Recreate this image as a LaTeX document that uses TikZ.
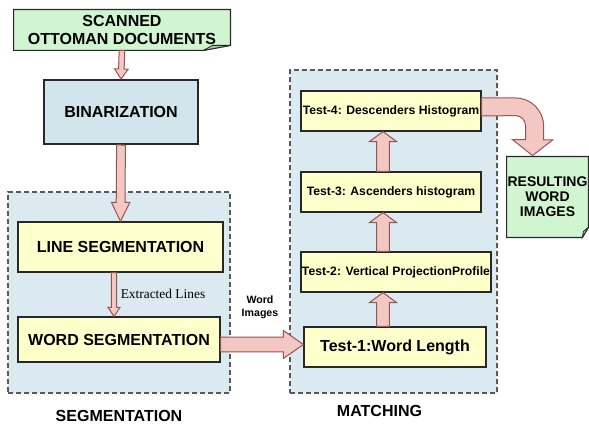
\documentclass[tikz,border=0pt]{standalone}
\usepackage{fontspec}
\setmainfont{Liberation Sans}
\newfontfamily\serifface{Liberation Serif}
\usetikzlibrary{calc,backgrounds}
\definecolor{panelblue}{RGB}{218,234,240}
\definecolor{binblue}{RGB}{210,229,236}
\definecolor{boxyellow}{RGB}{255,255,204}
\definecolor{notegreen}{RGB}{208,245,208}
\definecolor{curlgreen}{RGB}{160,200,160}
\definecolor{arrowfill}{RGB}{243,200,196}
\definecolor{arrowline}{RGB}{150,85,80}
\definecolor{boxline}{RGB}{40,40,40}

\begin{document}
\begin{tikzpicture}[x=0.5pt,y=0.5pt,
	panel/.style 2 args={draw=black!65, dash pattern=on 2.5pt off 1.5pt, line width=0.6pt, fill=panelblue, minimum width=#1, minimum height=#2},
	stage/.style 2 args={draw=boxline, line width=0.6pt, fill=boxyellow, inner sep=0pt, minimum width=#1, minimum height=#2, font=\bfseries\fontsize{8}{9}\selectfont},
	test/.style={stage={#1}{20pt}, font=\bfseries\fontsize{6.1}{7}\selectfont},
	note/.style 2 args={align=center, inner sep=0pt, minimum width=#1, minimum height=#2},
	notebox/.style={draw=boxline, line width=0.6pt, fill=notegreen},
	curl/.style={draw=boxline, line width=0.4pt, fill=curlgreen},
	caption/.style={font=\bfseries\fontsize{8}{9}\selectfont},
	fat/.style n args={3}{draw=arrowline, fill=arrowfill, line width=0.5pt,
		to path={($(\tikztostart)!#1!90:(\tikztotarget)$)
			-- ($($(\tikztotarget)!#3!(\tikztostart)$)!#1!90:(\tikztotarget)$)
			-- ($($(\tikztotarget)!#3!(\tikztostart)$)!#2!90:(\tikztotarget)$)
			-- (\tikztotarget)
			-- ($($(\tikztotarget)!#3!(\tikztostart)$)!#2!-90:(\tikztotarget)$)
			-- ($($(\tikztotarget)!#3!(\tikztostart)$)!#1!-90:(\tikztotarget)$)
			-- ($(\tikztostart)!#1!-90:(\tikztotarget)$) -- cycle}}]
	\useasboundingbox (0,0) rectangle (589,429);

	\node[panel={111pt}{100.5pt}] (segpanel) at (119,136.5) {};
	\node[panel={103.5pt}{161.5pt}] (matpanel) at (393.5,197.5) {};
	\node[caption] (seglabel) at (119,13) {SEGMENTATION};
	\node[caption] (matlabel) at (379.5,18) {MATCHING};

	\node[note={108pt}{20pt}, font=\bfseries\fontsize{8}{9}\selectfont] (scan) at (122,399) {SCANNED\\OTTOMAN DOCUMENTS};
	\node[stage={77pt}{32pt}, fill=binblue, line width=1pt] (bin) at (121,317) {BINARIZATION};
	\node[stage={102.5pt}{25pt}] (line) at (120.5,182) {LINE SEGMENTATION};
	\node[stage={101pt}{22.5pt}] (word) at (119,89.5) {WORD SEGMENTATION};

	\node[test=90pt] (t4) at (391,318) {Test-4: Descenders Histogram};
	\node[test=90pt] (t3) at (391,237) {Test-3: Ascenders histogram};
	\node[test=95pt] (t2) at (396,157) {Test-2: Vertical ProjectionProfile};
	\node[test=91pt, font=\bfseries\fontsize{8}{9}\selectfont] (t1) at (395,82) {Test-1:Word Length};

	\node[note={40.5pt}{40pt}, font=\bfseries\fontsize{7}{7.5}\selectfont] (result) at (547.5,232) {RESULTING\\WORD\\IMAGES};

	\node[align=center, inner sep=0pt, font=\bfseries\fontsize{5.3}{6.25}\selectfont] (wordimg) at (260,121.5) {Word\\Images};
	\node[inner sep=0pt, font=\serifface\fontsize{6.7}{8}\selectfont] (extracted) at (163,135) {Extracted Lines};

	\begin{scope}[on background layer]
		\filldraw[notebox] (scan.south west) -- (scan.north west) -- (scan.north east) -- ([yshift=2.5pt]scan.south east) -- ([xshift=-13.5pt]scan.south east) -- cycle;
		\filldraw[curl] ([yshift=2.5pt]scan.south east) -- ([xshift=-13.5pt]scan.south east) -- ([xshift=-9pt,yshift=2.5pt]scan.south east) -- cycle;
		\filldraw[notebox] (result.south west) -- (result.north west) -- (result.north east) -- ([yshift=5pt]result.south east) -- ([xshift=-3pt]result.south east) -- cycle;
		\filldraw[curl] ([yshift=5pt]result.south east) -- ([xshift=-3pt]result.south east) -- ([xshift=-2.5pt,yshift=3pt]result.south east) -- cycle;
	\end{scope}

	\path
		(scan.south) edge[fat={1.4pt}{3.4pt}{5pt}] (bin.north)
		(bin.south) edge[fat={2.2pt}{4.6pt}{9.5pt}] (line.north)
		([xshift=-3.25pt]line.south) edge[fat={1.3pt}{3pt}{4.5pt}] ([xshift=-2.5pt]word.north)
		([yshift=-2.5pt]word.east) edge[fat={3.7pt}{7pt}{10pt}] ([yshift=1.25pt]t1.west)
		([xshift=-6pt]t1.north) edge[fat={3.2pt}{6.8pt}{5pt}] ([xshift=-6.5pt]t2.south)
		([xshift=-6.5pt]t2.north) edge[fat={3.2pt}{6.8pt}{5pt}] ([xshift=-4pt]t3.south)
		([xshift=-4pt]t3.north) edge[fat={3.2pt}{6.8pt}{5pt}] ([xshift=-4pt]t4.south);
	\draw[fat={0pt}{0pt}{0pt}] ([yshift=6.5pt]t4.east) -- ++(34,0) arc[start angle=90, end angle=0, radius=14pt] -- ++(0,-14) -- ++(9,0)
		-- ([xshift=-7.5pt,yshift=0.5pt]result.north) -- ++(-20,16) -- ++(13,0) -- ++(0,14) arc[start angle=0, end angle=90, radius=5pt]
		-- ([yshift=-2.5pt]t4.east) -- cycle;
\end{tikzpicture}
\end{document}
